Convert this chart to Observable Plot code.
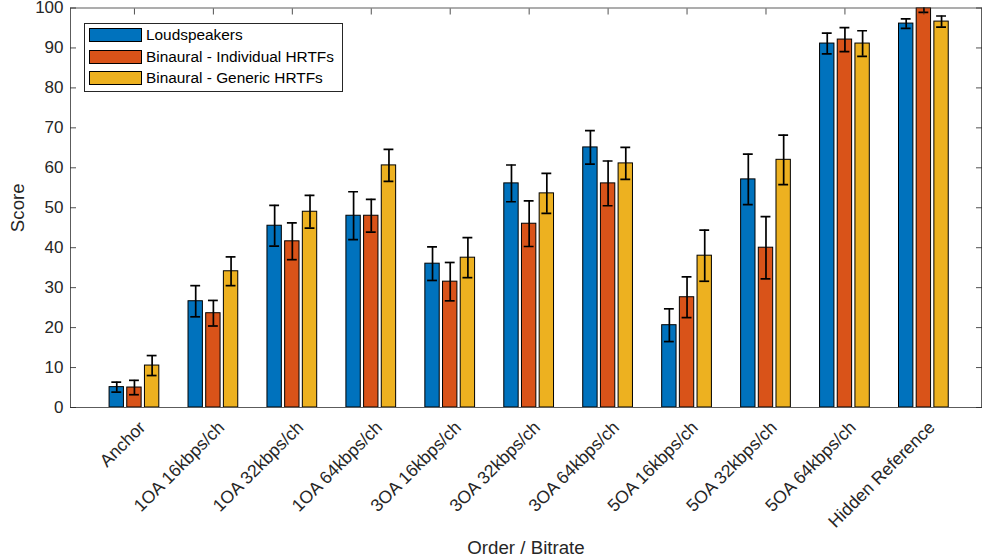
<!DOCTYPE html>
<html>
<head>
<meta charset="utf-8">
<script src="https://cdn.jsdelivr.net/npm/d3@7"></script>
<script src="https://cdn.jsdelivr.net/npm/@observablehq/plot@0.6"></script>
<style>
  body { margin: 0; background: #fff; }
  #wrap { position: relative; width: 983px; height: 557px; font-family: "Liberation Sans", Arial, sans-serif; }
  #wrap svg { overflow: visible; }
  #legend { position: absolute; left: 84px; top: 23px; width: 257px; height: 67px; border: 1px solid #262626; background: #fff; }
  .row { position: absolute; left: 4px; height: 14px; display: flex; align-items: center; }
  .sw { width: 51px; height: 12px; border: 1px solid #000; }
  .lbl { margin-left: 4px; font-size: 15.4px; color: #000; white-space: nowrap; }
</style>
</head>
<body>
<div id="wrap"></div>
<script>
const categories = ["Anchor", "1OA 16kbps/ch", "1OA 32kbps/ch", "1OA 64kbps/ch", "3OA 16kbps/ch", "3OA 32kbps/ch", "3OA 64kbps/ch", "5OA 16kbps/ch", "5OA 32kbps/ch", "5OA 64kbps/ch", "Hidden Reference"];
const seriesNames = ["Loudspeakers", "Binaural - Individual HRTFs", "Binaural - Generic HRTFs"];
const seriesColors = ["#0072BD", "#D95319", "#EDB120"];
const loudspeakers = [5.1, 26.6, 45.5, 48.0, 36.0, 56.1, 65.1, 20.6, 57.1, 91.1, 96.1];
const loudspeakersErr = [1.25, 3.9, 5.1, 6.0, 4.2, 4.6, 4.2, 4.1, 6.3, 2.6, 1.2];
const individual = [5.0, 23.6, 41.6, 48.0, 31.5, 46.0, 56.1, 27.6, 40.0, 92.1, 100];
const individualErr = [1.8, 3.2, 4.6, 4.1, 4.8, 5.7, 5.6, 5.1, 7.8, 3.0, 1.1];
const generic = [10.5, 34.1, 49.0, 60.6, 37.5, 53.6, 61.1, 38.0, 62.0, 91.1, 96.6];
const genericErr = [2.5, 3.6, 4.1, 4.0, 5.0, 5.0, 4.0, 6.4, 6.2, 3.2, 1.4];
const yTicks = [0, 10, 20, 30, 40, 50, 60, 70, 80, 90, 100];

const values = [loudspeakers, individual, generic];
const errs = [loudspeakersErr, individualErr, genericErr];
const offsets = [-0.224, 0, 0.224];
const bw = 0.182;   // bar width in group units
const cw = 0.125;   // error cap width in group units

const data = [];
categories.forEach((c, i) => {
  seriesNames.forEach((s, k) => {
    data.push({g: i + 1, cat: c, series: s, xc: i + 1 + offsets[k], value: values[k][i], err: errs[k][i]});
  });
});

const textColor = "#262626";
const font = "'Liberation Sans', Arial, sans-serif";

const chart = Plot.plot({
  width: 983,
  height: 557,
  marginLeft: 70,
  marginRight: 2,
  marginTop: 7.5,
  marginBottom: 150,
  style: {fontFamily: font, fontSize: "17px", color: textColor, background: "#fff"},
  x: {type: "linear", domain: [0.19, 11.73]},
  y: {domain: [0, 100]},
  color: {domain: seriesNames, range: seriesColors},
  marks: [
    Plot.rectY(data, {x1: d => d.xc - bw / 2, x2: d => d.xc + bw / 2, y1: 0, y2: "value", fill: "series", stroke: "#000", strokeWidth: 1, clip: true}),
    Plot.ruleX(data, {x: "xc", y1: d => d.value - d.err, y2: d => d.value + d.err, stroke: "#000", strokeWidth: 1.7, clip: true}),
    Plot.ruleY(data, {y: d => d.value + d.err, x1: d => d.xc - cw / 2, x2: d => d.xc + cw / 2, stroke: "#000", strokeWidth: 1.7, clip: true}),
    Plot.ruleY(data, {y: d => d.value - d.err, x1: d => d.xc - cw / 2, x2: d => d.xc + cw / 2, stroke: "#000", strokeWidth: 1.7, clip: true}),
    Plot.frame({stroke: textColor, strokeOpacity: 0.75, strokeWidth: 1}),
    Plot.axisY({ticks: yTicks, tickSize: 0, tickPadding: 7, fontSize: 17, label: "Score", labelAnchor: "center", labelArrow: "none", labelOffset: 60}),
    Plot.axisY({ticks: yTicks, anchor: "left", tickSize: -6, tickFormat: () => "", label: null, strokeOpacity: 0.8}),
    Plot.axisY({ticks: yTicks, anchor: "right", tickSize: -6, tickFormat: () => "", label: null, strokeOpacity: 0.8}),
    Plot.axisX({ticks: d3.range(1, categories.length + 1), anchor: "top", tickSize: -6, tickFormat: () => "", label: null, strokeOpacity: 0.8}),
    Plot.axisX({ticks: d3.range(1, categories.length + 1), anchor: "bottom", tickSize: 0, tickRotate: -45, tickPadding: 17, dx: 8, fontSize: 17.6, tickFormat: d => categories[d - 1], label: "Order / Bitrate", labelAnchor: "center", labelArrow: "none", labelOffset: 146})
  ]
});

const wrap = document.getElementById("wrap");
wrap.appendChild(chart);
chart.querySelectorAll("[aria-label='x-axis label'] text, [aria-label='y-axis label'] text").forEach(t => t.setAttribute("font-size", "18.7px"));

const legend = document.createElement("div");
legend.id = "legend";
seriesNames.forEach((s, k) => {
  const row = document.createElement("div");
  row.className = "row";
  row.style.top = (4 + k * 21.7) + "px";
  const sw = document.createElement("div");
  sw.className = "sw";
  sw.style.background = seriesColors[k];
  const lbl = document.createElement("span");
  lbl.className = "lbl";
  lbl.textContent = s;
  row.appendChild(sw);
  row.appendChild(lbl);
  legend.appendChild(row);
});
wrap.appendChild(legend);
</script>
</body>
</html>
